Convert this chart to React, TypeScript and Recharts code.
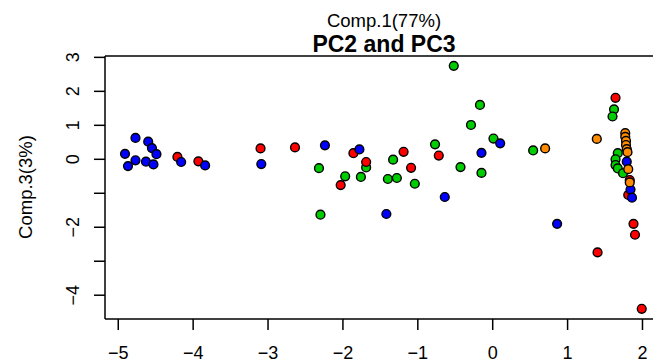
import React from 'react';
import { ScatterChart, Scatter, XAxis, YAxis, ReferenceLine } from 'recharts';

// PCA scores, Comp.2 (x) against Comp.3 (y), one list per group
const blueX = [-4.77, -4.6, -4.55, -4.49, -4.91, -4.77, -4.87, -4.63, -4.53, -4.16, -3.84, -3.09, -2.24, -1.78, -1.42, -0.64, 0.1, -0.15, 0.86, 1.79, 1.84, 1.86];
const blueY = [0.63, 0.52, 0.33, 0.15, 0.16, -0.03, -0.2, -0.07, -0.15, -0.08, -0.18, -0.14, 0.41, 0.29, -1.61, -1.11, 0.47, 0.19, -1.9, -0.07, -0.89, -1.13];

const redX = [-4.21, -3.93, -3.1, -2.64, -1.86, -1.69, -2.03, -1.19, -1.09, -0.72, 1.64, 1.83, 1.81, 1.88, 1.9, 1.4, 1.99];
const redY = [0.07, -0.06, 0.32, 0.35, 0.18, -0.08, -0.76, 0.22, -0.25, 0.11, 1.81, -0.61, -1.05, -1.9, -2.22, -2.74, -4.4];

const greenX = [-2.32, -2.3, -1.69, -1.97, -1.76, -1.33, -1.4, -1.28, -1.04, -0.77, -0.52, -0.17, -0.29, -0.43, 0.01, -0.15, 0.54, 1.62, 1.6, 1.67, 1.64, 1.64, 1.67, 1.74];
const greenY = [-0.26, -1.63, -0.24, -0.5, -0.52, -0.01, -0.58, -0.55, -0.72, 0.44, 2.75, 1.6, 1.01, -0.23, 0.61, -0.4, 0.26, 1.47, 1.26, 0.18, 0.0, -0.17, -0.27, -0.41];

const orangeX = [0.7, 1.39, 1.77, 1.77, 1.78, 1.78, 1.79, 1.8, 1.81, 1.83];
const orangeY = [0.32, 0.6, 0.77, 0.66, 0.54, 0.42, 0.3, 0.21, -0.29, -0.68];

const xTicks = [-5, -4, -3, -2, -1, 0, 1, 2];
const yTicks = [-4, -3, -2, -1, 0, 1, 2, 3];
const yTickLabels = [-4, -2, 0, 1, 2, 3];

const xDomain = [-5.177, 2.314];
const yDomain = [-4.7, 3.04];

const toPoints = (xs: number[], ys: number[]) => xs.map((x, i) => ({ x, y: ys[i] }));

const fmt = (v: number) => (v < 0 ? '\u2212' + Math.abs(v) : String(v));

const FONT = '"Liberation Sans", Arial, Helvetica, sans-serif';

const XTick = (props: any) => {
  const { x, payload } = props;
  return (
    <text x={x} y={359} textAnchor="middle" fontSize={18} fontFamily={FONT} fill="#000">
      {fmt(payload.value)}
    </text>
  );
};

const YTick = (props: any) => {
  const { y, payload } = props;
  if (!yTickLabels.includes(payload.value)) return <g />;
  return (
    <text
      x={79}
      y={y}
      transform={`rotate(-90 79 ${y})`}
      textAnchor="middle"
      fontSize={18}
      fontFamily={FONT}
      fill="#000"
    >
      {fmt(payload.value)}
    </text>
  );
};

const Dot = (props: any) => {
  const { cx, cy, fill } = props;
  return <circle cx={cx} cy={cy} r={4.4} fill={fill} stroke="#000" strokeWidth={1.4} />;
};

const series = [
  { name: 'green', color: '#00CD00', data: toPoints(greenX, greenY) },
  { name: 'red', color: '#FF0000', data: toPoints(redX, redY) },
  { name: 'blue', color: '#0000FF', data: toPoints(blueX, blueY) },
  { name: 'orange', color: '#FF8C00', data: toPoints(orangeX, orangeY) },
];

export default function App() {
  return (
    <div
      style={{
        position: 'fixed',
        left: 0,
        top: 0,
        width: 653,
        height: 363,
        overflow: 'hidden',
        background: '#fff',
        fontFamily: FONT,
      }}
    >
      <ScatterChart width={690} height={363} margin={{ top: 56, right: 24, bottom: 0, left: 0 }}>
        <XAxis
          type="number"
          dataKey="x"
          domain={xDomain}
          ticks={xTicks}
          allowDataOverflow
          height={44}
          tickSize={11}
          tick={XTick}
          axisLine={{ stroke: '#000', strokeWidth: 1.5 }}
          tickLine={{ stroke: '#000', strokeWidth: 1.5 }}
        />
        <YAxis
          type="number"
          dataKey="y"
          domain={yDomain}
          ticks={yTicks}
          allowDataOverflow
          width={105}
          tickSize={11}
          tick={YTick}
          axisLine={{ stroke: '#000', strokeWidth: 1.5 }}
          tickLine={{ stroke: '#000', strokeWidth: 1.5 }}
        />
        <ReferenceLine y={yDomain[1]} stroke="#000" strokeWidth={1.5} ifOverflow="visible" />
        <ReferenceLine x={xDomain[1]} stroke="#000" strokeWidth={1.5} ifOverflow="visible" />
        {series.map((s) => (
          <Scatter
            key={s.name}
            name={s.name}
            data={s.data}
            fill={s.color}
            shape={Dot}
            isAnimationActive={false}
          />
        ))}
      </ScatterChart>
      <svg
        width={653}
        height={363}
        style={{ position: 'absolute', left: 0, top: 0, pointerEvents: 'none' }}
      >
        <text x={384} y={27} textAnchor="middle" fontSize={18.5} fontFamily={FONT} fill="#000">
          Comp.1(77%)
        </text>
        <text x={384} y={52} textAnchor="middle" fontSize={23} fontWeight="bold" fontFamily={FONT} fill="#000">
          PC2 and PC3
        </text>
        <text
          x={32}
          y={187}
          transform="rotate(-90 32 187)"
          textAnchor="middle"
          fontSize={18.5}
          fontFamily={FONT}
          fill="#000"
        >
          Comp.3(3%)
        </text>
      </svg>
    </div>
  );
}
